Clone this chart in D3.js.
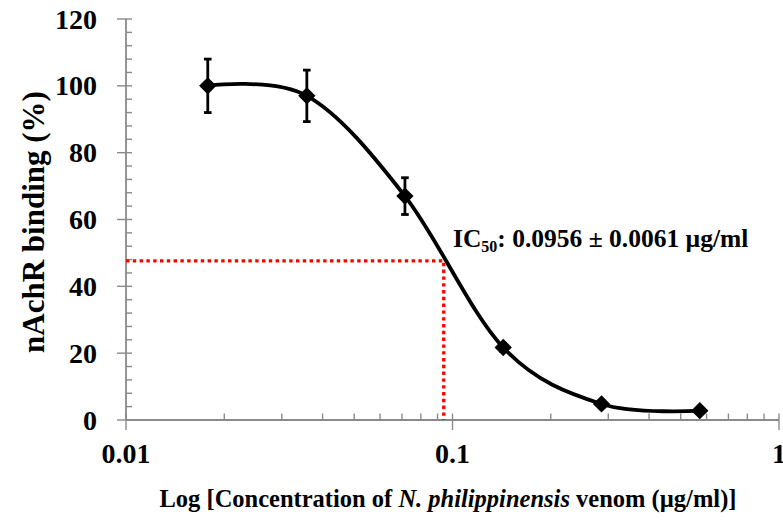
<!DOCTYPE html>
<html>
<head>
<meta charset="utf-8">
<script src="https://cdn.jsdelivr.net/npm/d3@7"></script>
<style>
  body { margin: 0; background: #fff; }
  text { font-family: "Liberation Serif", "Times New Roman", serif; font-weight: bold; fill: #000; }
</style>
</head>
<body>
<div id="chart"></div>
<script>

// values
var concentration = [0.0178, 0.0358, 0.0715, 0.143, 0.286, 0.572];
var binding       = [100, 97, 67, 21.7, 4.8, 2.8];
var errorBar      = [8, 7.7, 5.5, 1.2, 1, 0.8];

var yTicks  = [0, 20, 40, 60, 80, 100, 120];
var xTicks  = [0.01, 0.1, 1];
var xLabels = ["0.01", "0.1", "1"];

var ic50Conc  = 0.094;
var ic50Level = 47.6;

var width  = 783;
var height = 521;

var svg = d3.select("#chart").append("svg")
    .attr("width", width)
    .attr("height", height);

var x = d3.scaleLog().domain([0.01, 1]).range([126, 779]);
var y = d3.scaleLinear().domain([0, 120]).range([420, 19]);

var axisColor = "#8a8a8a";

// y axis
var yAxis = svg.append("g").attr("transform", "translate(126,0)");
yAxis.append("line")
    .attr("y1", y(0)).attr("y2", y(120))
    .attr("stroke", axisColor).attr("stroke-width", 1.8);

var yMinor = d3.range(0, 121, 4).filter(function(v) { return v % 20 != 0; });
yAxis.selectAll(".minor").data(yMinor).enter().append("line")
    .attr("x1", 0).attr("x2", 6)
    .attr("y1", function(d) { return y(d); })
    .attr("y2", function(d) { return y(d); })
    .attr("stroke", axisColor).attr("stroke-width", 1.4);

yAxis.selectAll(".major").data(yTicks).enter().append("line")
    .attr("x1", -9).attr("x2", 6)
    .attr("y1", function(d) { return y(d); })
    .attr("y2", function(d) { return y(d); })
    .attr("stroke", axisColor).attr("stroke-width", 1.4);

yAxis.selectAll(".lab").data(yTicks).enter().append("text")
    .attr("x", -29)
    .attr("y", function(d) { return y(d) + 9.5; })
    .attr("text-anchor", "end")
    .attr("font-size", 28)
    .text(function(d) { return d; });

// x axis
var xAxis = svg.append("g");
xAxis.append("line")
    .attr("x1", x(0.01)).attr("x2", x(1))
    .attr("y1", y(0)).attr("y2", y(0))
    .attr("stroke", axisColor).attr("stroke-width", 1.8);

var xMinor = [];
[0.01, 0.1].forEach(function(dec) {
  for (var k = 2; k <= 9; k++) xMinor.push(dec * k);
});
xAxis.selectAll(".minor").data(xMinor).enter().append("line")
    .attr("x1", function(d) { return x(d); })
    .attr("x2", function(d) { return x(d); })
    .attr("y1", y(0)).attr("y2", y(0) - 6.5)
    .attr("stroke", axisColor).attr("stroke-width", 1.4);

xAxis.selectAll(".major").data(xTicks).enter().append("line")
    .attr("x1", function(d) { return x(d); })
    .attr("x2", function(d) { return x(d); })
    .attr("y1", y(0) - 6.5).attr("y2", y(0) + 10)
    .attr("stroke", axisColor).attr("stroke-width", 1.4);

xAxis.selectAll(".lab").data(xTicks).enter().append("text")
    .attr("x", function(d) { return x(d); })
    .attr("y", 463)
    .attr("text-anchor", "middle")
    .attr("font-size", 28)
    .text(function(d, i) { return xLabels[i]; });

// IC50 red dotted guide
svg.append("path")
    .attr("d", "M" + x(0.01) + "," + y(ic50Level) + "H" + x(ic50Conc) + "V" + y(0))
    .attr("fill", "none")
    .attr("stroke", "#ff0000")
    .attr("stroke-width", 3.3)
    .attr("stroke-dasharray", "3.4,3.4");

// smoothed line (excel style)
var points = concentration.map(function(c, i) { return [x(c), y(binding[i])]; });
var line = d3.line().curve(d3.curveCardinal.tension(0));
svg.append("path")
    .attr("d", line(points))
    .attr("fill", "none")
    .attr("stroke", "#000")
    .attr("stroke-width", 3.8);

// error bars
var eb = svg.append("g").attr("stroke", "#000").attr("stroke-width", 2.8);
concentration.forEach(function(c, i) {
  var cx = x(c);
  var top = y(binding[i] + errorBar[i]);
  var bot = y(binding[i] - errorBar[i]);
  eb.append("line").attr("x1", cx).attr("x2", cx).attr("y1", top).attr("y2", bot);
  eb.append("line").attr("x1", cx - 3.8).attr("x2", cx + 3.8).attr("y1", top).attr("y2", top);
  eb.append("line").attr("x1", cx - 3.8).attr("x2", cx + 3.8).attr("y1", bot).attr("y2", bot);
});

// diamond markers
var diamond = d3.symbol().type(d3.symbolSquare).size(150);
svg.selectAll(".pt").data(concentration).enter().append("path")
    .attr("d", diamond)
    .attr("transform", function(d, i) {
      return "translate(" + x(d) + "," + y(binding[i]) + ") rotate(45)";
    })
    .attr("fill", "#000");

// IC50 label
var lab = svg.append("text")
    .attr("x", 453).attr("y", 247)
    .attr("font-size", 25.5);
lab.append("tspan").text("IC");
lab.append("tspan").attr("font-size", 16).attr("dy", 5).text("50");
lab.append("tspan").attr("dy", -5).text(": 0.0956 \u00b1 0.0061 \u00b5g/ml");

// axis titles
svg.append("text")
    .attr("transform", "translate(44,222) rotate(-90)")
    .attr("text-anchor", "middle")
    .attr("font-size", 31)
    .text("nAchR binding (%)");

var xt = svg.append("text")
    .attr("x", 448).attr("y", 507)
    .attr("text-anchor", "middle")
    .attr("font-size", 24.5);
xt.append("tspan").text("Log [Concentration of ");
xt.append("tspan").attr("font-style", "italic").text("N. philippinensis");
xt.append("tspan").text(" venom (\u00b5g/ml)]");

</script>
</body>
</html>
